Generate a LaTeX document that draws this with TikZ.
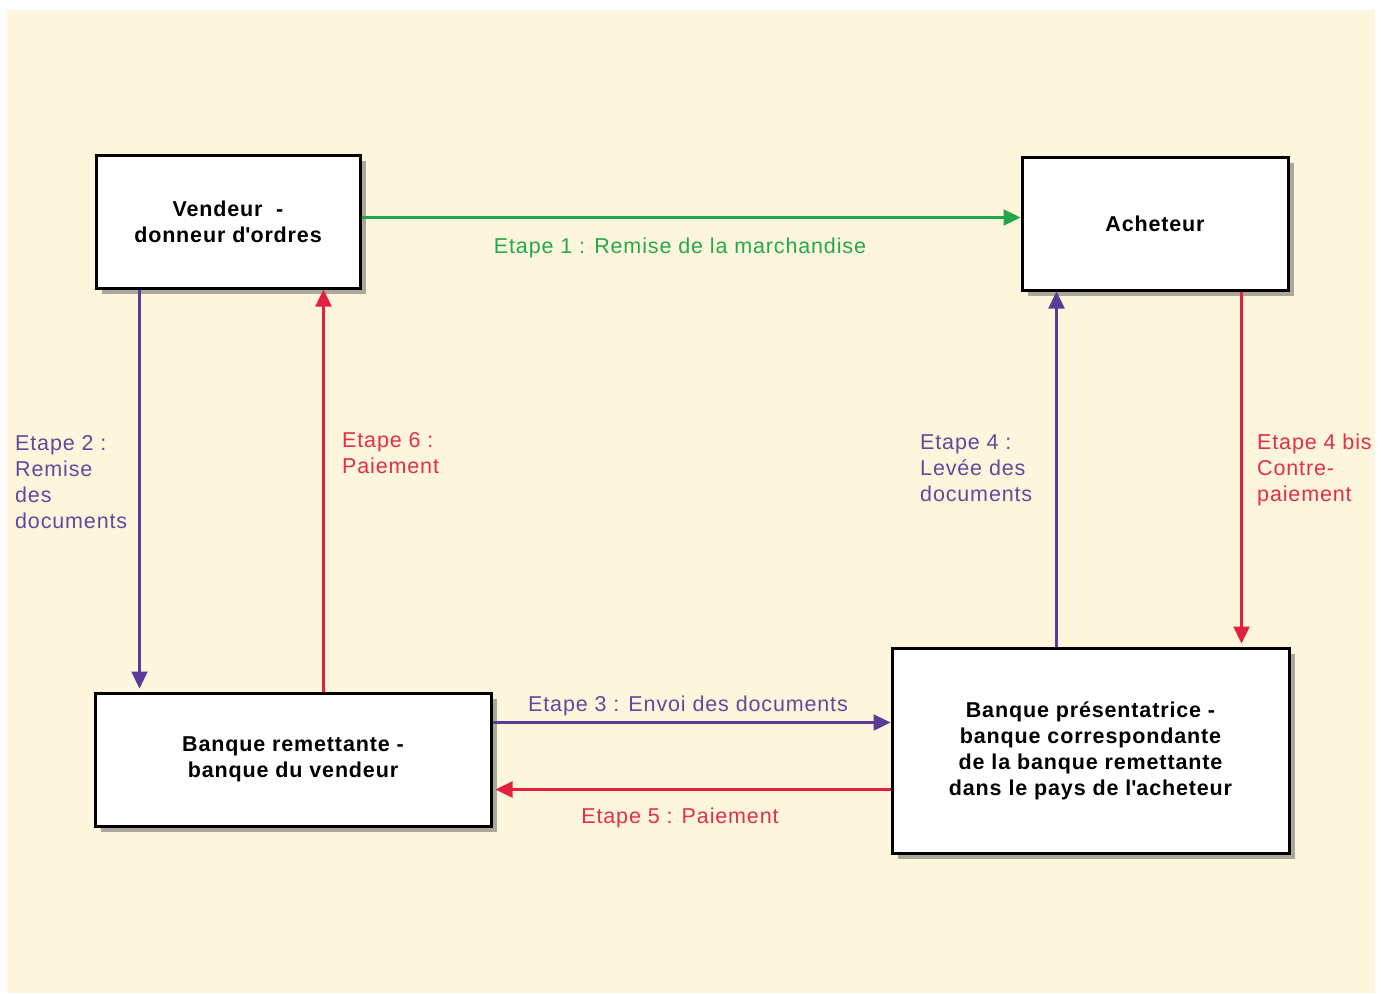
\documentclass[tikz,border=0pt]{standalone}
\usepackage{fontspec}
\setmainfont[LetterSpace=4]{Liberation Sans}
\usetikzlibrary{arrows.meta,shadows,calc}
\definecolor{bgcream}{HTML}{FEF6DC}
\definecolor{arrgreen}{HTML}{1FA74A}
\definecolor{arrpurple}{HTML}{5A3C98}
\definecolor{arrred}{HTML}{E3213F}
\definecolor{txtgreen}{HTML}{25A94C}
\definecolor{txtpurple}{HTML}{64489E}
\definecolor{txtred}{HTML}{E52E48}
\begin{document}
\begin{tikzpicture}[x=1pt,y=-1pt,
  box/.style={draw=black, line width=3pt, fill=white, align=center, inner sep=0pt,
    font=\fontsize{21.5}{26}\selectfont\bfseries,
    drop shadow={shadow xshift=6pt, shadow yshift=-6pt, fill=black!55, opacity=0.6}},
  conn/.style={line width=2.4pt, -{Triangle[length=17pt,width=16pt]}},
  lbl/.style={inner sep=0pt, align=left, font=\fontsize{21.5}{26}\selectfont},
]
\useasboundingbox (0,0) rectangle (1381,993);
\fill[white] (0,0) rectangle (1381,993);
\fill[bgcream] (7,10) rectangle (1375,993);

\node[box, minimum width=264pt, minimum height=133pt] (v) at (228,221.5) {Vendeur\ \ -\\donneur d\textquotesingle ordres};
\node[box, minimum width=266pt, minimum height=133pt] (a) at (1155,223.5) {Acheteur};
\node[box, minimum width=396pt, minimum height=133pt] (br) at (293,759.5) {Banque remettante -\\banque du vendeur};
\node[box, minimum width=397pt, minimum height=205pt] (bp) at (1090.5,750.5) {Banque présentatrice -\\banque correspondante\\de la banque remettante\\dans le pays de l\textquotesingle acheteur};

% Etape 1
\coordinate (g1) at ([yshift=-64pt]v.north east);
\draw[conn, draw=arrgreen, fill=arrgreen] (g1) -- (g1 -| a.west);
\node[lbl, text=txtgreen, anchor=base] (l1) at (680,253) {Etape 1 : Remise de la marchandise};

% Etape 2
\coordinate (p2) at ([xshift=45pt]v.south west);
\draw[conn, draw=arrpurple, fill=arrpurple, shorten >=3pt] (p2) -- (p2 |- br.north);
\node[lbl, text=txtpurple, anchor=north west] (l2) at (15,435) {Etape 2 :\\Remise\\des\\documents};

% Etape 6
\coordinate (p6) at ([xshift=230pt]br.north west);
\draw[conn, draw=arrred, fill=arrred] (p6) -- (p6 |- v.south);
\node[lbl, text=txtred, anchor=north west] (l6) at (342,432) {Etape 6 :\\Paiement};

% Etape 3
\coordinate (p3) at ([yshift=-31pt]br.north east);
\draw[conn, draw=arrpurple, fill=arrpurple] (p3) -- (p3 -| bp.west);
\node[lbl, text=txtpurple, anchor=base] (l3) at (688,711) {Etape 3 : Envoi des documents};

% Etape 5
\coordinate (p5) at ([yshift=-98pt]br.north east);
\draw[conn, draw=arrred, fill=arrred] (p5 -| bp.west) -- ([xshift=3pt]p5);
\node[lbl, text=txtred, anchor=base] (l5) at (680,823) {Etape 5 : Paiement};

% Etape 4
\coordinate (p4) at ([xshift=36pt]a.south west);
\draw[conn, draw=arrpurple, fill=arrpurple] (p4 |- bp.north) -- (p4);
\node[lbl, text=txtpurple, anchor=north west] (l4) at (920,435) {Etape 4 :\\Levée des\\documents};

% Etape 4 bis
\coordinate (p4b) at ([xshift=221pt]a.south west);
\draw[conn, draw=arrred, fill=arrred, shorten >=3pt] (p4b) -- (p4b |- bp.north);
\node[lbl, text=txtred, anchor=north west] (l4b) at (1257,434) {Etape 4 bis\\Contre-\\paiement};
\end{tikzpicture}
\end{document}
